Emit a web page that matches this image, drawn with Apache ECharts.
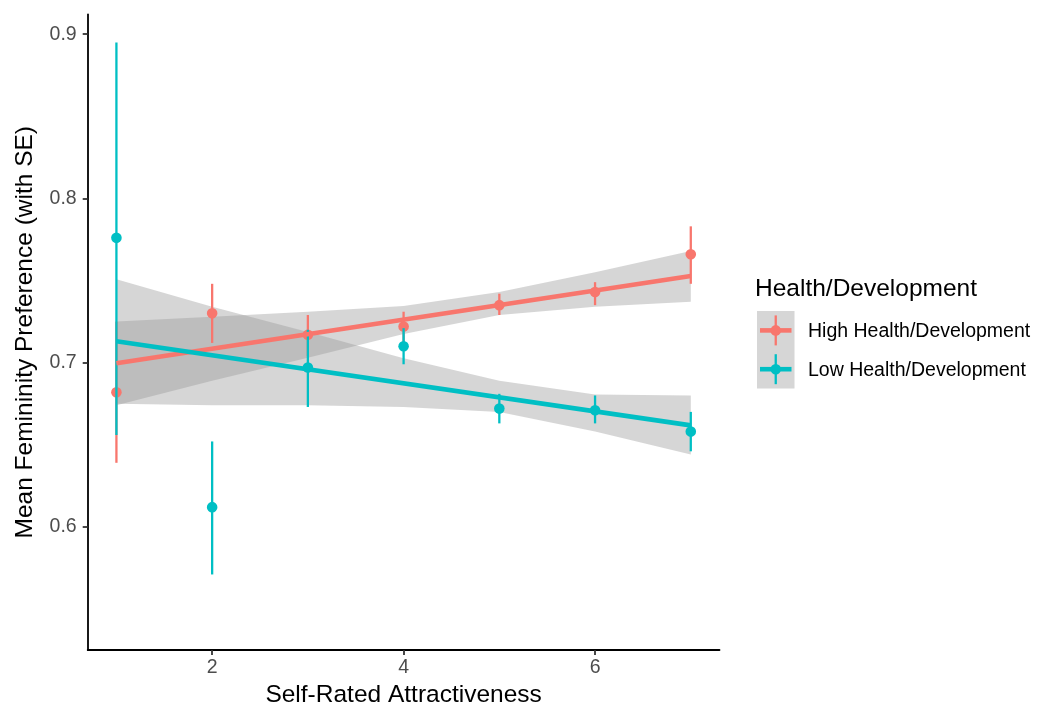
<!DOCTYPE html>
<html>
<head>
<meta charset="utf-8">
<script src="https://cdn.jsdelivr.net/npm/echarts@6/dist/echarts.min.js"></script>
<style>
html,body{margin:0;padding:0;background:#fff;}
#chart{width:1047px;height:713px;}
</style>
</head>
<body>
<div id="chart"></div>
<script>
// ---- data ----
const xVals = [1, 2, 3, 4, 5, 6, 7];
const groupNames = ['High Health/Development', 'Low Health/Development'];
const legendTitle = 'Health/Development';
const xTicks = [2, 4, 6];
const yTicks = [0.6, 0.7, 0.8, 0.9];

const highMean = [0.682, 0.730, 0.717, 0.722, 0.735, 0.743, 0.766];
const highLo   = [0.639, 0.712, 0.704, 0.712, 0.729, 0.735, 0.748];
const highHi   = [0.725, 0.748, 0.729, 0.731, 0.742, 0.749, 0.783];

const lowMean  = [0.776, 0.612, 0.697, 0.710, 0.672, 0.671, 0.658];
const lowLo    = [0.656, 0.571, 0.673, 0.699, 0.663, 0.663, 0.646];
const lowHi    = [0.895, 0.652, 0.720, 0.721, 0.681, 0.680, 0.670];

const fitX = [1, 7];
const highFit = [0.6996, 0.7527];
const lowFit  = [0.7130, 0.6618];

const highBandUpper = [0.725, 0.728, 0.731, 0.7345, 0.743, 0.755, 0.768];
const highBandLower = [0.674, 0.689, 0.703, 0.7175, 0.729, 0.734, 0.737];
const lowBandUpper  = [0.7507, 0.734, 0.7186, 0.7027, 0.689, 0.6806, 0.680];
const lowBandLower  = [0.675, 0.674, 0.674, 0.673, 0.670, 0.658, 0.644];

// ---- style ----
const RED = '#F8766D';
const TEAL = '#00BFC4';
const BAND = 'rgba(153,153,153,0.4)';
const FONT = "'Liberation Sans', Arial, Helvetica, sans-serif";
const PT_R = 5.3;
const FIT_W = 4.6;
const BAR_W = 2.3;

function bandSeries(upper, lower) {
  return {
    type: 'custom',
    silent: true,
    data: [[xVals[0], lower[0]]],
    renderItem: function (params, api) {
      const pts = [];
      for (let i = 0; i < xVals.length; i++) pts.push(api.coord([xVals[i], upper[i]]));
      for (let i = xVals.length - 1; i >= 0; i--) pts.push(api.coord([xVals[i], lower[i]]));
      return { type: 'polygon', shape: { points: pts }, style: { fill: BAND, stroke: null } };
    }
  };
}

function fitSeries(vals, color) {
  return {
    type: 'line',
    silent: true,
    data: fitX.map((x, i) => [x, vals[i]]),
    showSymbol: false,
    symbol: 'none',
    lineStyle: { color: color, width: FIT_W }
  };
}

function pointRangeSeries(mean, lo, hi, color) {
  return {
    type: 'custom',
    silent: true,
    data: xVals.map((x, i) => [x, mean[i], lo[i], hi[i]]),
    renderItem: function (params, api) {
      const x = api.value(0);
      const c = api.coord([x, api.value(1)]);
      const a = api.coord([x, api.value(2)]);
      const b = api.coord([x, api.value(3)]);
      return {
        type: 'group',
        children: [
          { type: 'line', shape: { x1: a[0], y1: a[1], x2: b[0], y2: b[1] }, style: { stroke: color, lineWidth: BAR_W } },
          { type: 'circle', shape: { cx: c[0], cy: c[1], r: PT_R }, style: { fill: color } }
        ]
      };
    }
  };
}

const chart = echarts.init(document.getElementById('chart'), null, { renderer: 'canvas' });

const legX = 757, legY = 311, keyW = 37.5, keyH = 38.8;
function legendKey(i, color) {
  const cy = legY + keyH * i + keyH / 2;
  const cx = legX + keyW / 2;
  return [
    { type: 'line', shape: { x1: legX + 3, y1: cy, x2: legX + keyW - 3, y2: cy }, style: { stroke: color, lineWidth: FIT_W } },
    { type: 'line', shape: { x1: cx, y1: cy - 15, x2: cx, y2: cy + 15 }, style: { stroke: color, lineWidth: BAR_W } },
    { type: 'circle', shape: { cx: cx, cy: cy, r: PT_R }, style: { fill: color } },
    { type: 'text', x: 808, y: cy + 1.5, style: { text: groupNames[i], font: '19.5px ' + FONT, fill: '#000', verticalAlign: 'middle', align: 'left' } }
  ];
}

const option = {
  animation: false,
  backgroundColor: '#fff',
  grid: { left: 87.7, right: 327.5, top: 14.5, bottom: 59.5, containLabel: false },
  xAxis: {
    type: 'value',
    min: 0.7, max: 7.3,
    name: 'Self-Rated Attractiveness',
    nameLocation: 'middle',
    nameGap: 33,
    nameTextStyle: { fontFamily: FONT, fontSize: 24.5, color: '#000' },
    axisLine: { show: true, onZero: false, lineStyle: { color: '#000', width: 1.8 } },
    axisTick: { show: true, length: 5, customValues: xTicks, lineStyle: { color: '#333', width: 1.8 } },
    axisLabel: { customValues: xTicks, fontFamily: FONT, fontSize: 19.5, color: '#4D4D4D', margin: 8 },
    splitLine: { show: false }
  },
  yAxis: {
    type: 'value',
    min: 0.525, max: 0.912,
    name: 'Mean Femininity Preference (with SE)',
    nameLocation: 'middle',
    nameGap: 50,
    nameTextStyle: { fontFamily: FONT, fontSize: 24.5, color: '#000' },
    axisLine: { show: true, onZero: false, lineStyle: { color: '#000', width: 1.8 } },
    axisTick: { show: true, length: 5, customValues: yTicks, lineStyle: { color: '#333', width: 1.8 } },
    axisLabel: { customValues: yTicks, fontFamily: FONT, fontSize: 19.5, color: '#4D4D4D', margin: 11, formatter: v => v.toFixed(1) },
    splitLine: { show: false }
  },
  series: [
    bandSeries(highBandUpper, highBandLower),
    fitSeries(highFit, RED),
    bandSeries(lowBandUpper, lowBandLower),
    fitSeries(lowFit, TEAL),
    pointRangeSeries(highMean, highLo, highHi, RED),
    pointRangeSeries(lowMean, lowLo, lowHi, TEAL)
  ],
  graphic: [
    { type: 'text', x: 755, y: 289, style: { text: legendTitle, font: '24.5px ' + FONT, fill: '#000', verticalAlign: 'middle' } },
    { type: 'rect', shape: { x: legX, y: legY, width: keyW, height: keyH * 2 }, style: { fill: '#D6D6D6' } },
    ...legendKey(0, RED),
    ...legendKey(1, TEAL)
  ]
};
// keep drawing order equal to series order
option.series.forEach((s, i) => { s.z = 2; s.zlevel = 0; s.z2 = i; });
chart.setOption(option);
</script>
</body>
</html>
